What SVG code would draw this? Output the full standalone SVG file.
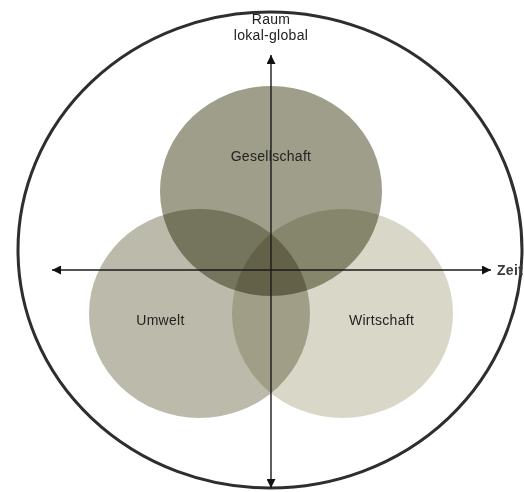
<svg xmlns="http://www.w3.org/2000/svg" width="524" height="492" viewBox="0 0 524 492">
<defs>
<marker id="arr" viewBox="0 0 10 10" refX="10" refY="5" markerWidth="9" markerHeight="9" markerUnits="userSpaceOnUse" orient="auto-start-reverse">
<path d="M0,0 L10,5 L0,10 Z" fill="#111"/>
</marker>
<style>
.lbl{font-family:"Liberation Sans",Arial,sans-serif;font-size:14px;fill:#222;text-anchor:middle;letter-spacing:0.3px}
.circ{mix-blend-mode:multiply}
.axis{stroke:#1a1a1a;stroke-width:1.4;fill:none}
</style>
</defs>
<rect width="524" height="492" fill="#fff"/>
<g id="frame">
<ellipse cx="270" cy="250" rx="252" ry="238" fill="none" stroke="#2e2e2e" stroke-width="3"/>
</g>
<g id="umwelt">
<ellipse class="circ" cx="199.5" cy="313.5" rx="110.5" ry="104.5" fill="#bcbbab"/>
</g>
<g id="wirtschaft">
<ellipse class="circ" cx="342.5" cy="313.5" rx="110.5" ry="104.5" fill="#d9d8c8"/>
</g>
<g id="gesellschaft">
<ellipse class="circ" cx="271" cy="191" rx="111" ry="105" fill="#9e9e8b"/>
</g>
<g id="connectors">
<line class="axis" x1="271" y1="55" x2="271" y2="488" marker-start="url(#arr)" marker-end="url(#arr)"/>
<line class="axis" x1="52" y1="270" x2="491" y2="270" marker-start="url(#arr)" marker-end="url(#arr)"/>
</g>
<g id="labels">
<text class="lbl" x="271" y="161">Gesellschaft</text>
<text class="lbl" x="160.5" y="325">Umwelt</text>
<text class="lbl" x="381.5" y="325">Wirtschaft</text>
<text class="lbl" x="271" y="24">Raum</text>
<text class="lbl" x="271" y="40">lokal-global</text>
<text class="lbl" x="497" y="275" style="text-anchor:start;font-weight:bold;fill:#3a3a3a">Zeit</text>
</g>
</svg>
